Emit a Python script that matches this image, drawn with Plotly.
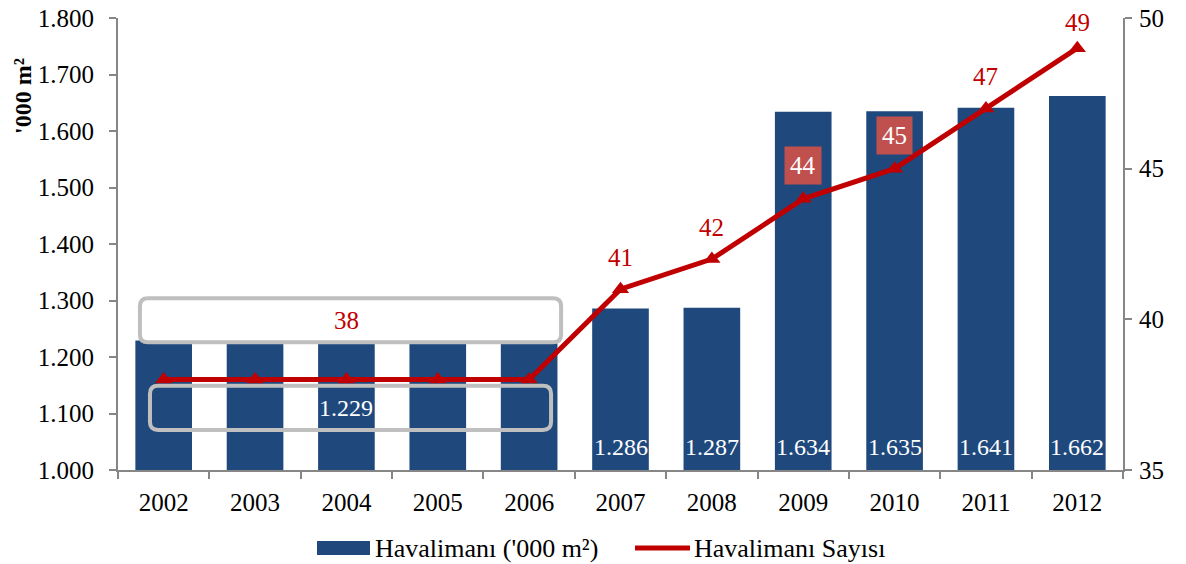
import plotly.graph_objects as go

years = [2002, 2003, 2004, 2005, 2006, 2007, 2008, 2009, 2010, 2011, 2012]
area = [1229, 1229, 1229, 1229, 1229, 1286, 1287, 1634, 1635, 1641, 1662]
airports = [38, 38, 38, 38, 38, 41, 42, 44, 45, 47, 49]
area_labels = ["", "", "", "", "", "1.286", "1.287", "1.634", "1.635", "1.641", "1.662"]
count_labels = ["", "", "", "", "", "41", "42", "44", "45", "47", "49"]
boxed_counts = [2009, 2010]
bar_name = "Havalimanı ('000 m²)"
line_name = "Havalimanı Sayısı"

FONT = "Liberation Serif, Times New Roman, serif"
NAVY = "#1F497D"
RED = "#C00000"
GREY = "#868686"
OFF = 8  # page body margin
W, H = 1186 - OFF, 564 - OFF
# desired page-space plot box: x 118..1123, y 18..470
ML, MT = 118 - OFF, 18 - OFF
MR, MB = W - (1123 - OFF), H - (470 - OFF)

fig = go.Figure()
fig.add_trace(go.Bar(x=years, y=area, name=bar_name, marker_color=NAVY,
                     marker_line_width=0, yaxis="y", showlegend=False))
fig.add_trace(go.Scatter(x=years, y=airports, name=line_name, yaxis="y2",
                         mode="lines+markers", line=dict(color=RED, width=5),
                         marker=dict(symbol="triangle-up", size=15, color=RED), showlegend=False))

# bar value labels near base
for yr, lab in zip(years, area_labels):
    if lab:
        fig.add_annotation(x=yr, y=1000, yref="y", text=lab, showarrow=False,
                           yanchor="bottom", yshift=8, font=dict(color="white", size=24, family=FONT))

# line labels
for yr, val, lab in zip(years, airports, count_labels):
    if not lab:
        continue
    if yr in boxed_counts:
        fig.add_annotation(x=yr, y=val, yref="y2", text=lab, showarrow=False, yshift=33,
                           font=dict(color="white", size=25, family=FONT),
                           bgcolor="#C0504D", borderpad=5)
    else:
        fig.add_annotation(x=yr, y=val, yref="y2", text=lab, showarrow=False,
                           yshift=26 if yr == 2012 else 32,
                           font=dict(color=RED, size=25, family=FONT))


def rounded(x0, x1, y0, y1, rx, ry):
    return (f"M{x0+rx},{y1} L{x1-rx},{y1} Q{x1},{y1} {x1},{y1-ry} "
            f"L{x1},{y0+ry} Q{x1},{y0} {x1-rx},{y0} L{x0+rx},{y0} Q{x0},{y0} {x0},{y0+ry} "
            f"L{x0},{y1-ry} Q{x0},{y1} {x0+rx},{y1} Z")

rx, ry = 0.09, 14
fig.add_shape(type="path", xref="x", yref="y", path=rounded(2001.74, 2006.35, 1226, 1304, rx, ry),
              fillcolor="white", line=dict(color="#BFBFBF", width=4), layer="above")
fig.add_shape(type="path", xref="x", yref="y", path=rounded(2001.85, 2006.24, 1071, 1149, rx, ry),
              fillcolor="rgba(0,0,0,0)", line=dict(color="#BFBFBF", width=4), layer="above")
fig.add_annotation(x=2004, y=1265, yref="y", text="38", showarrow=False,
                   font=dict(color=RED, size=25, family=FONT))
fig.add_annotation(x=2004, y=1110, yref="y", text="1.229", showarrow=False,
                   font=dict(color="white", size=24, family=FONT))

# helpers: page pixel -> paper coords
pw, ph = W - ML - MR, H - MT - MB
def px(x):
    return (x - OFF - ML) / pw
def py(y):
    return (H - MB - (y - OFF)) / ph

# y-axis title (placed near top like reference)
fig.add_annotation(xref="paper", yref="paper", x=px(23), y=py(96),
                   text="<b>'000 m²</b>", textangle=-90, showarrow=False,
                   yanchor="middle", xanchor="center",
                   font=dict(size=24, family=FONT, color="black"))

# custom legend
fig.add_shape(type="rect", xref="paper", yref="paper", x0=px(317), x1=px(370), y0=py(555), y1=py(541),
              fillcolor=NAVY, line_width=0)
fig.add_annotation(xref="paper", yref="paper", x=px(373), y=py(548), text=bar_name, showarrow=False,
                   xanchor="left", yanchor="middle", font=dict(size=26, family=FONT, color="black"))
fig.add_shape(type="line", xref="paper", yref="paper", x0=px(635), x1=px(690), y0=py(548), y1=py(548),
              line=dict(color=RED, width=5))
fig.add_trace(go.Scatter(x=[px(663)], y=[py(546)], xaxis="x3", yaxis="y3", mode="markers",
                         marker=dict(symbol="triangle-up", size=14, color=RED),
                         showlegend=False, hoverinfo="skip", cliponaxis=False))
fig.add_annotation(xref="paper", yref="paper", x=px(692), y=py(548), text=line_name, showarrow=False,
                   xanchor="left", yanchor="middle", font=dict(size=26, family=FONT, color="black"))

fig.update_layout(
    width=W, height=H,
    margin=dict(l=ML, r=MR, t=MT, b=MB, autoexpand=False),
    plot_bgcolor="white", paper_bgcolor="white",
    separators=",.",
    bargap=0.38,
    font=dict(family=FONT, size=25, color="black"),
    showlegend=False,
    xaxis=dict(range=[2001.5, 2012.5], tickvals=years, ticktext=[str(y) for y in years],
               ticks="", showgrid=False, showline=True, linecolor=GREY, linewidth=2,
               zeroline=False, tickfont=dict(size=25, family=FONT), automargin=False,
               ticklabelstandoff=9, ticklabeloverflow="allow",
               minor=dict(tickvals=[y + 0.5 for y in [2001] + years], ticks="outside",
                          ticklen=7, tickcolor=GREY, tickwidth=2, showgrid=False)),
    yaxis=dict(range=[1000, 1800], dtick=100, tickformat=",d", showgrid=False,
               showline=True, linecolor=GREY, linewidth=2, ticks="outside", ticklen=7,
               tickcolor=GREY, tickwidth=2, zeroline=False, tickfont=dict(size=25, family=FONT),
               automargin=False, ticklabelstandoff=10, ticklabeloverflow="allow"),
    yaxis2=dict(range=[35, 50], dtick=5, overlaying="y", side="right", showgrid=False,
                showline=True, linecolor=GREY, linewidth=2, ticks="outside", ticklen=7,
                tickcolor=GREY, tickwidth=2, zeroline=False, tickfont=dict(size=25, family=FONT),
                automargin=False, ticklabelstandoff=2, ticklabeloverflow="allow"),
    xaxis3=dict(range=[0, 1], domain=[0, 1], visible=False, overlaying="x", fixedrange=True),
    yaxis3=dict(range=[0, 1], domain=[0, 1], visible=False, overlaying="y", fixedrange=True),
)

fig.write_html("out.html")
